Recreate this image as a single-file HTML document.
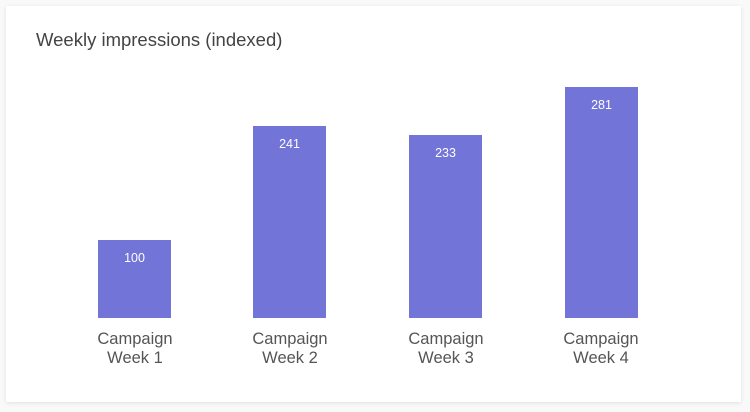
<!DOCTYPE html>
<html><head><style>
body{margin:0;width:750px;height:412px;background:#f9f9f9;font-family:"Liberation Sans",sans-serif;position:relative;overflow:hidden}
.card{position:absolute;left:6px;top:6px;width:735px;height:396px;background:#fff;box-shadow:0 1px 4px rgba(0,0,0,0.10)}
.t{position:absolute;left:36px;top:29px;font-size:18.5px;color:#444}
.b{position:absolute;width:73px;background:#7274d8;color:#fff;font-size:12.5px;text-align:center;box-sizing:border-box;padding-top:11px}
.l{position:absolute;width:120px;text-align:center;font-size:16.5px;color:#555;line-height:19px;top:330px}
</style></head><body>
<div class="card"></div>
<div class="t">Weekly impressions (indexed)</div>
<div class="b" style="left:98px;top:240px;height:78px">100</div>
<div class="b" style="left:253px;top:126px;height:192px">241</div>
<div class="b" style="left:409px;top:135px;height:183px">233</div>
<div class="b" style="left:565px;top:87px;height:231px">281</div>
<div class="l" style="left:75px">Campaign<br>Week 1</div>
<div class="l" style="left:230px">Campaign<br>Week 2</div>
<div class="l" style="left:386px">Campaign<br>Week 3</div>
<div class="l" style="left:541px">Campaign<br>Week 4</div>
</body></html>
